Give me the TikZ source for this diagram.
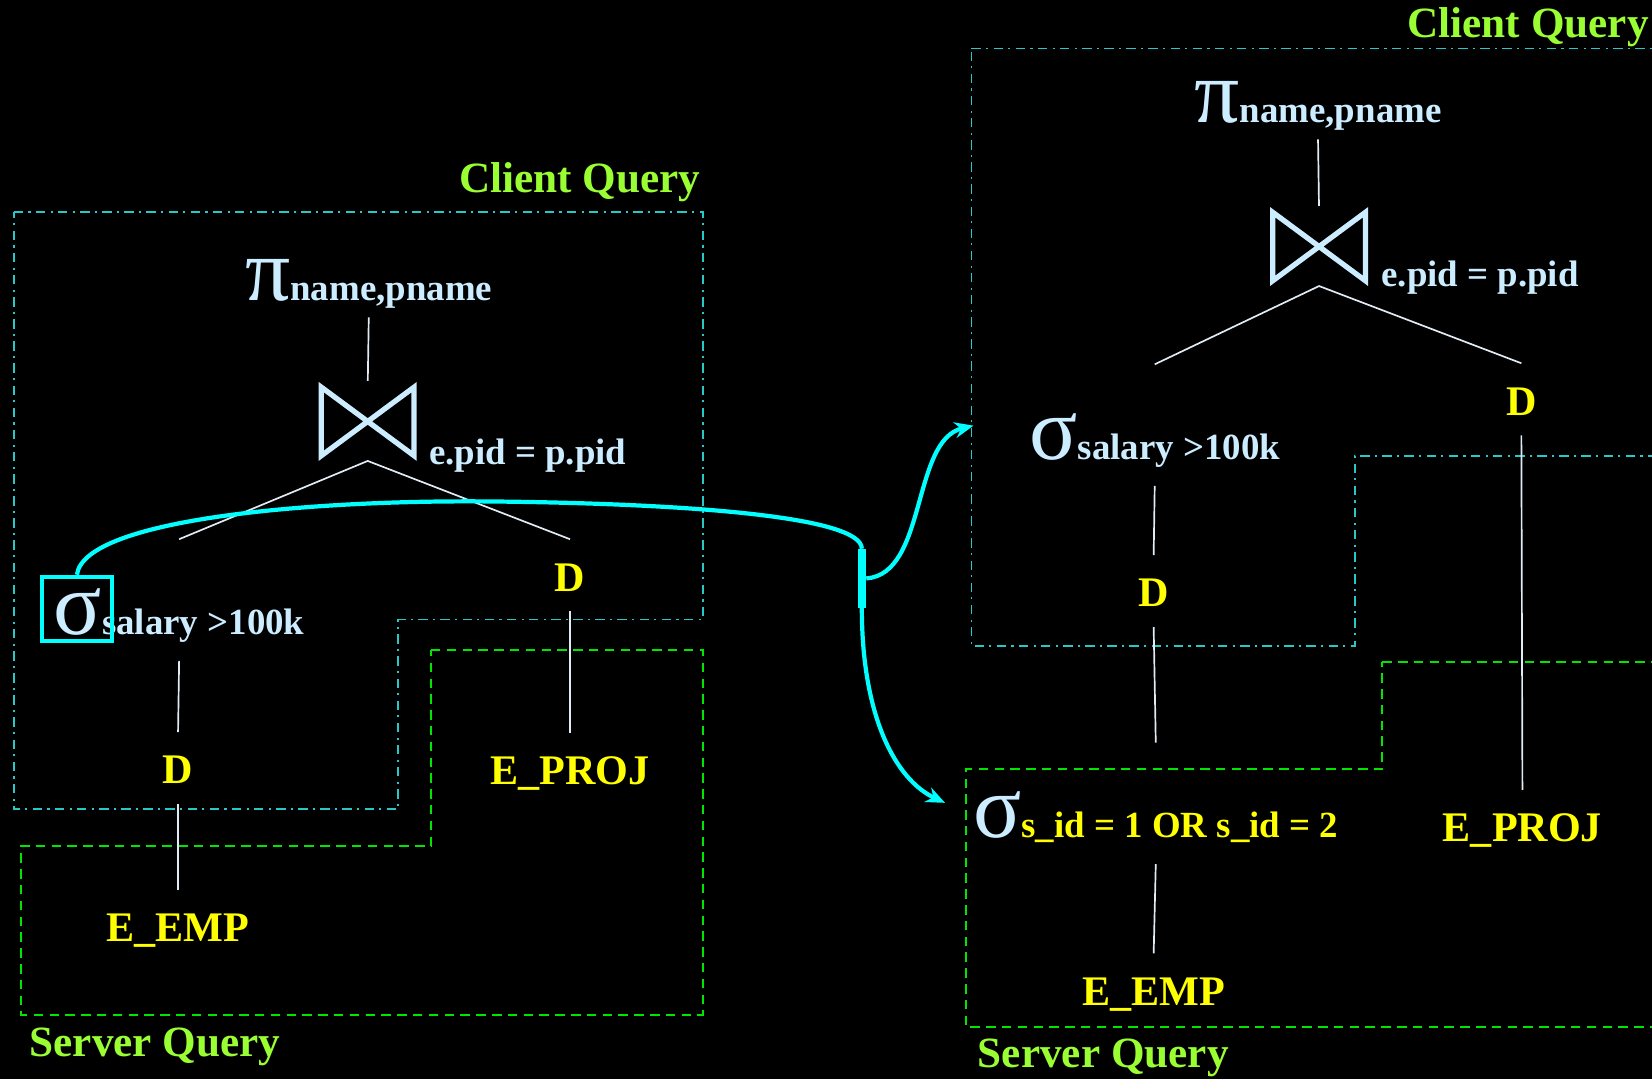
\documentclass[tikz,border=0pt]{standalone}
\usepackage{fontspec}
\setmainfont{Liberation Serif}
\usepackage{xcolor}
\usepackage{tikz}
\usetikzlibrary{arrows.meta}

\definecolor{opblue}{RGB}{204,236,255}
\definecolor{ylw}{RGB}{255,255,0}
\definecolor{qgreen}{RGB}{153,255,51}
\definecolor{boxcyan}{RGB}{40,200,200}
\definecolor{boxgreen}{RGB}{0,230,0}
\definecolor{flowcyan}{RGB}{0,255,255}
\definecolor{linkgray}{RGB}{225,235,245}

\newcommand{\fsz}[1]{\fontsize{#1}{#1}\selectfont}
\newcommand{\opsym}[1]{{\fsz{85}\mdseries#1}}

\begin{document}
\begin{tikzpicture}[
        x=1pt, y=-1pt,
        opnode/.style={font=\fsz{35}\bfseries, text=opblue, anchor=base, inner xsep=0pt, inner ysep=20pt, text height=70pt, text depth=5pt},
        topnode/.style={font=\fsz{35}\bfseries, text=opblue, anchor=base, inner xsep=0pt, inner ysep=16pt, text depth=0pt},
        rel/.style={font=\fsz{40}\bfseries, text=ylw, anchor=base, inner xsep=0pt, inner ysep=19pt, text height=30pt, text depth=0pt},
        cond/.style={font=\fsz{35}\bfseries, text=opblue, anchor=base west, inner sep=0pt},
        qtitle/.style={font=\fsz{41}\bfseries, text=qgreen, inner sep=0pt},
        joinbox/.style={minimum width=88pt, minimum height=65pt, inner sep=0pt, outer sep=0pt},
        bowtie/.style={draw=opblue, line width=5pt, line join=miter},
        link/.style={draw=linkgray, line width=1.6pt},
        clientbox/.style={draw=boxcyan, line width=1.6pt, dash pattern=on 9pt off 5pt on 2pt off 5pt},
        serverbox/.style={draw=boxgreen, line width=2pt, dash pattern=on 9pt off 6pt},
        hilite/.style={draw=flowcyan, line width=4pt, minimum width=67pt, minimum height=61pt, inner sep=0pt},
        splitbar/.style={fill=flowcyan, minimum width=8pt, minimum height=56pt, inner sep=0pt},
        flowline/.style={draw=flowcyan, line width=4pt, -{Stealth[length=18pt, width=15pt]}}
    ]
        \clip (0,0) rectangle (1568,1024);
        \fill[black] (0,0) rectangle (1568,1024);

        % Regions, left plan
        \draw[clientbox] (13,201) -- (667,201) -- (667,588) -- (378,588) -- (378,768) -- (13,768) -- cycle;
        \draw[serverbox] (409,617) -- (667,617) -- (667,963) -- (20,963) -- (20,803) -- (409,803) -- cycle;
        \node[qtitle, anchor=base east] (cq1) at (665,183) {Client Query};
        \node[qtitle, anchor=base west] (sq1) at (28,1003) {Server Query};

        % Regions, right plan
        \draw[clientbox] (922,46) -- (1600,46) -- (1600,433) -- (1286,433) -- (1286,613) -- (922,613) -- cycle;
        \draw[serverbox] (1312,628) -- (1600,628) -- (1600,975) -- (917,975) -- (917,730) -- (1312,730) -- cycle;
        \node[qtitle, anchor=base east] (cq2) at (1565,36) {Client Query};
        \node[qtitle, anchor=base west] (sq2) at (928,1013) {Server Query};

        % Left tree
        \node[topnode] (pi1) at (350,285) {\opsym{π}name,pname};
        \node[joinbox] (j1) at (349,400) {};
        \draw[bowtie] (j1.north west) -- (j1.south east) -- (j1.north east) -- (j1.south west) -- cycle;
        \coordinate (j1b) at ([yshift=-5pt]j1.south);
        \node[cond] (c1) at (407,441) {e.pid = p.pid};
        \node[opnode] (s1) at (170,602) {\opsym{σ}salary >100k};
        \node[rel] (d1) at (541,561) {D};
        \node[rel] (d2) at (169,744) {D};
        \node[rel] (emp1) at (169,894) {E\_EMP};
        \node[rel] (proj1) at (541,745) {E\_PROJ};

        % Right tree
        \node[topnode] (pi2) at (1251,116) {\opsym{π}name,pname};
        \node[joinbox] (j2) at (1252,234) {};
        \draw[bowtie] (j2.north west) -- (j2.south east) -- (j2.north east) -- (j2.south west) -- cycle;
        \coordinate (j2b) at ([yshift=-5pt]j2.south);
        \node[cond] (c2) at (1311,272) {e.pid = p.pid};
        \node[opnode] (s2) at (1096,436) {\opsym{σ}salary >100k};
        \node[rel] (d3) at (1444,394) {D};
        \node[rel] (d4) at (1095,576) {D};
        \node[opnode] (s3) at (1097,795) {\opsym{σ}\textcolor{ylw}{s\_id = 1 OR s\_id = 2}};
        \node[rel] (emp2) at (1095,954) {E\_EMP};
        \node[rel] (proj2) at (1445,799) {E\_PROJ};

        % Edges
        \draw[link, shorten >=6pt] (pi1.south) -- (j1.north);
        \draw[link] (s1.north) -- (j1b) -- (d1.north);
        \draw[link] (s1.south) -- (d2.north);
        \draw[link] (d2.south) -- (emp1.north);
        \draw[link] (d1.south) -- (proj1.north);

        \draw[link, shorten >=6pt] (pi2.south) -- (j2.north);
        \draw[link] (s2.north) -- (j2b) -- (d3.north);
        \draw[link] (s2.south) -- (d4.north);
        \draw[link] (d4.south) -- (s3.north);
        \draw[link] (s3.south) -- (emp2.north);
        \draw[link] (d3.south) -- (proj2.north);

        % Selection pushed apart
        \node[hilite] (pick) at (73,578) {};
        \node[splitbar] (split) at (818,549) {};
        \coordinate (clientin) at (924,404);
        \coordinate (serverin) at (897,762);
        \draw[draw=flowcyan, line width=4pt] (pick.north) .. controls (80,492) and (300,474) .. (470,476)
            .. controls (650,478) and (818,490) .. (split.north);
        \draw[flowline] (split.east) .. controls (880,545) and (865,418) .. (clientin);
        \draw[flowline] (split.south) .. controls (818,680) and (850,740) .. (serverin);
    \end{tikzpicture}
\end{document}
